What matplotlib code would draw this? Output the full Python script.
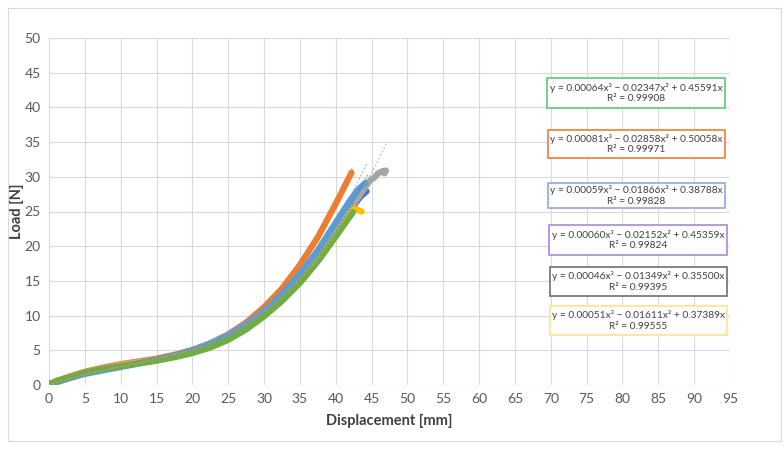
import matplotlib
matplotlib.use("Agg")
import matplotlib.pyplot as plt
from matplotlib.patches import Rectangle
import numpy as np

plt.rcParams['font.family'] = ['Lato', 'DejaVu Sans']

# measured load-displacement curves (mm, N)
db_x = [0, 1, 2.5, 5, 7.5, 10, 12.5, 15, 17.5, 20, 22.5, 25, 27.5, 30, 32.5, 35, 37.5, 40, 42, 43.5, 44.3]
db_y = [0, 0.4, 0.9, 1.7, 2.2, 2.7, 3.2, 3.6, 4.2, 4.9, 5.8, 7.0, 8.5, 10.4, 12.7, 15.3, 18.4, 22.1, 25.2, 27.2, 27.9]

or_x = [0, 1, 2.5, 5, 7.5, 10, 12.5, 15, 17.5, 20, 22.5, 25, 27.5, 30, 32.5, 35, 37.5, 40, 42.2]
or_y = [0, 0.5, 1.1, 1.9, 2.5, 3.0, 3.4, 3.8, 4.35, 5.05, 6.0, 7.3, 9.0, 11.2, 13.9, 17.3, 21.3, 26.1, 30.6]

gr_x = [0, 1, 2.5, 5, 7.5, 10, 12.5, 15, 17.5, 20, 22.5, 25, 27.5, 30, 32.5, 35, 37.5, 40, 42,
        43.5, 44.8, 45.4, 45.9, 46.5, 47.0, 46.8]
gr_y = [0, 0.5, 1.0, 1.8, 2.4, 2.9, 3.3, 3.7, 4.2, 4.9, 5.8, 7.0, 8.6, 10.6, 13.0, 15.7, 18.9, 22.4, 25.3,
        27.6, 29.5, 29.9, 30.5, 30.8, 30.9, 30.5]

ye_x = [0, 1, 2.5, 5, 7.5, 10, 12.5, 15, 17.5, 20, 22.5, 25, 27.5, 30, 32.5, 35, 37.5, 40, 41.5, 42.4, 42.9, 43.6]
ye_y = [0, 0.5, 1.0, 1.8, 2.3, 2.8, 3.2, 3.6, 4.1, 4.7, 5.6, 6.8, 8.3, 10.1, 12.4, 15.0, 18.0, 21.5, 23.9, 25.4, 25.3, 25.0]

lb_x = [0, 1, 2.5, 5, 7.5, 10, 12.5, 15, 17.5, 20, 22.5, 25, 27.5, 30, 32.5, 35, 37.5, 40, 42, 43, 44.1]
lb_y = [0, 0.4, 0.9, 1.6, 2.1, 2.6, 3.1, 3.6, 4.25, 5.0, 6.0, 7.2, 8.8, 10.7, 13.1, 16.0, 19.4, 23.4, 26.6, 28.0, 29.1]

gn_x = [0, 0.5, 1, 2.5, 5, 7.5, 10, 12.5, 15, 17.5, 20, 22.5, 25, 27.5, 30, 32.5, 35, 37.5, 40, 42.4]
gn_y = [0.2, 0.3, 0.6, 1.0, 1.8, 2.3, 2.7, 3.1, 3.5, 4.0, 4.6, 5.4, 6.5, 8.0, 9.9, 12.1, 14.7, 17.8, 21.4, 24.9]

# trendline coefficients (x^3, x^2, x) and R^2 shown in the chart
eq_coefs = [
    [0.00064, -0.02347, 0.45591],
    [0.00081, -0.02858, 0.50058],
    [0.00059, -0.01866, 0.38788],
    [0.00060, -0.02152, 0.45359],
    [0.00046, -0.01349, 0.35500],
    [0.00051, -0.01611, 0.37389],
]
eq_r2 = ["0.99908", "0.99971", "0.99828", "0.99824", "0.99395", "0.99555"]
eq_text = [
    "y = 0.00064x³ \u2212 0.02347x² + 0.45591x",
    "y = 0.00081x³ \u2212 0.02858x² + 0.50058x",
    "y = 0.00059x³ \u2212 0.01866x² + 0.38788x",
    "y = 0.00060x³ \u2212 0.02152x² + 0.45359x",
    "y = 0.00046x³ \u2212 0.01349x² + 0.35500x",
    "y = 0.00051x³ \u2212 0.01611x² + 0.37389x",
]
box_colors = ["#5cc97a", "#ed7d31", "#8eaadb", "#a98ad8", "#6f6f6f", "#ffe38f"]

series = [
    (db_x, db_y, "#4472c4", 3),
    (or_x, or_y, "#ed7d31", 1),
    (gr_x, gr_y, "#a5a5a5", 4),
    (ye_x, ye_y, "#ffc000", 5),
    (lb_x, lb_y, "#5b9bd5", 2),
    (gn_x, gn_y, "#70ad47", 0),
]

fig = plt.figure(figsize=(7.84, 4.49), dpi=100)
W, H = 784, 449
ax = fig.add_axes([49 / W, 1 - 385 / H, (730 - 49) / W, (385 - 38) / H])

for xs, ys, c, k in series:
    ax.plot(xs, ys, color=c, lw=4.5, solid_capstyle="round", solid_joinstyle="round", zorder=3)

# thin dotted polynomial trendlines
for xs, ys, c, k in series:
    xt = np.linspace(0, max(xs) + 0.2, 200)
    a3, a2, a1 = eq_coefs[k]
    ax.plot(xt, a3 * xt**3 + a2 * xt**2 + a1 * xt, color=c, lw=0.7, ls=(0, (2, 2)), alpha=0.8, zorder=4)

ax.set_xlim(0, 95)
ax.set_ylim(0, 50)
ax.set_xticks(np.arange(0, 96, 5))
ax.set_yticks(np.arange(0, 51, 5))
ax.grid(True, color="#d9d9d9", lw=0.8)
ax.set_axisbelow(True)
for s in ax.spines.values():
    s.set_visible(False)
ax.tick_params(length=0, labelsize=10, colors="#595959", pad=6)
ax.set_xlabel("Displacement [mm]", fontsize=10.5, fontweight="bold", color="#404040", labelpad=6)
ax.set_ylabel("Load [N]", fontsize=10.5, fontweight="bold", color="#404040")
ax.yaxis.set_label_coords(-25 / 681, 0.5)

# equation boxes
boxes = [(547, 78, 725, 108), (548, 130, 725, 158), (548, 183, 725, 208),
         (549, 225, 727, 255), (550, 267, 727, 296), (550, 306, 727, 335)]
for i, (x0, y0, x1, y1) in enumerate(boxes):
    fig.add_artist(Rectangle((x0 / W, 1 - y1 / H), (x1 - x0) / W, (y1 - y0) / H,
                             transform=fig.transFigure, facecolor="white",
                             edgecolor=box_colors[i], lw=1.2, zorder=5))
    cx = (x0 + x1) / 2 / W
    cy = 1 - (y0 + y1) / 2 / H
    fig.text(cx, cy, eq_text[i] + "\nR² = " + eq_r2[i], ha="center", va="center",
             fontsize=7.3, color="#404040", linespacing=1.2, zorder=6)

fig.add_artist(Rectangle((8 / W, 1 - 441 / H), 773 / W, 433 / H, transform=fig.transFigure,
                         fill=False, edgecolor="#d9d9d9", lw=0.8))

fig.savefig("out.png", dpi=100)
